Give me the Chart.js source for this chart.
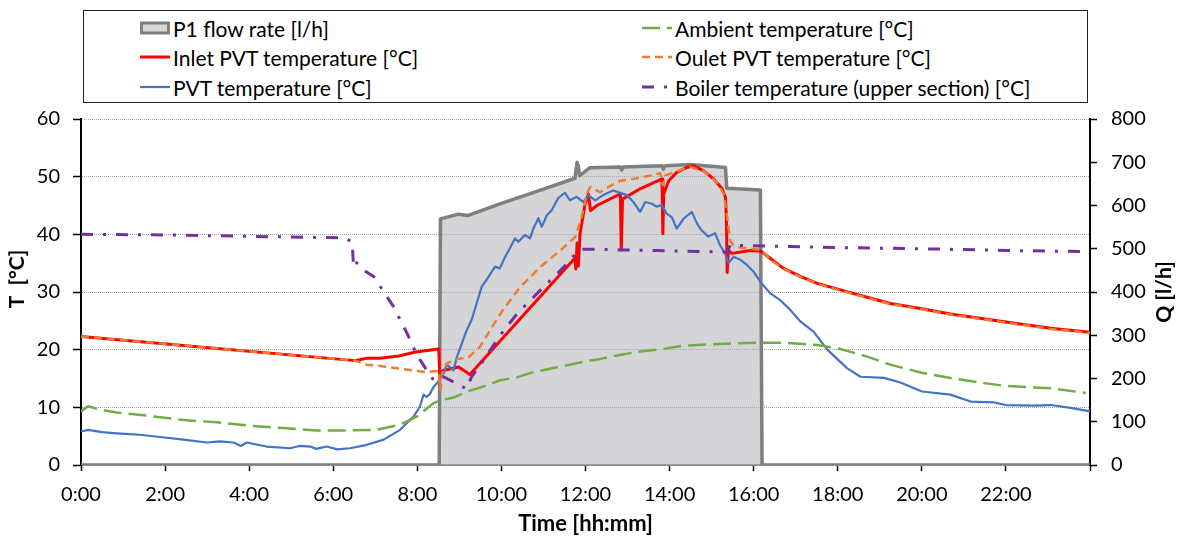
<!DOCTYPE html>
<html>
<head>
<meta charset="utf-8">
<script src="https://cdn.jsdelivr.net/npm/chart.js@4.4.1/dist/chart.umd.min.js"></script>
<style>
    body { margin: 0; background: #fff; }
    #wrap { position: relative; width: 1182px; height: 537px; }
    #legend {
        position: absolute; left: 83px; top: 10px; width: 1003px; height: 91px;
        border: 1.5px solid #222; background: #fff;
        font-family: Lato, sans-serif; font-size: 21px; color: #000;
    }
    .lg-item { position: absolute; display: flex; align-items: center; height: 26px; white-space: nowrap; }
    .lg-item svg { margin-right: 3px; }
</style>
</head>
<body>
<div id="wrap">
    <canvas id="chart" width="1182" height="537"></canvas>
    <div id="legend"></div>
</div>
<script>
// --- Data (time in hours) ---
const xTicks = [0, 2, 4, 6, 8, 10, 12, 14, 16, 18, 20, 22, 24];
const leftTitle = 'T  [°C]';
const rightTitle = 'Q [l/h]';
const xTitle = 'Time [hh:mm]';

const flowTime = [0, 8.52, 8.55, 8.98, 9.21, 10.0, 11.0, 11.75, 11.8, 11.83, 11.86, 12.1, 12.83, 12.86, 12.9, 13.82, 13.85, 13.9, 14.5, 15.33, 15.36, 16.16, 16.2, 24];
const flowQ = [0, 0, 569, 580, 577, 605, 638, 663, 700, 690, 669, 687, 689, 682, 689, 692, 684, 692, 695, 688, 640, 636, 0, 0];

const inletTime = [0, 6.52, 6.8, 7.1, 7.56, 7.96, 8.51, 8.53, 8.62, 8.98, 9.25, 11.75, 11.77, 11.8, 11.83, 11.87, 11.99, 12.07, 12.12, 12.27, 12.83, 12.85, 12.88, 13.3, 13.82, 13.84, 13.86, 13.98, 14.17, 14.41, 14.57, 14.81, 15.05, 15.25, 15.33, 15.35, 15.37, 15.4, 15.48, 15.92, 16.16, 16.4, 16.71, 17.11, 17.51, 18, 18.7, 19.25, 20, 20.68, 22, 23.06, 24];
const inletT = [22.3, 18.1, 18.5, 18.5, 18.9, 19.6, 20.1, 16.0, 16.4, 17.0, 15.7, 35.9, 34.0, 38.5, 34.5, 40.1, 45.3, 47.0, 44.1, 45.0, 47.0, 37.3, 46.1, 47.9, 49.6, 40.1, 47.0, 49.3, 50.75, 51.6, 51.9, 51.0, 49.6, 47.9, 46.4, 43.0, 33.4, 37.2, 36.7, 37.2, 37.1, 35.8, 34.1, 32.7, 31.5, 30.5, 29.1, 28.0, 27.1, 26.2, 24.8, 23.7, 23.0];

const pvtTime = [0, 0.17, 0.5, 0.85, 1.4, 1.88, 2.44, 2.99, 3.3, 3.63, 3.8, 3.94, 4.41, 4.97, 5.2, 5.45, 5.6, 5.84, 6.1, 6.4, 6.8, 7.2, 7.59, 7.91, 8.06, 8.15, 8.22, 8.3, 8.38, 8.47, 8.62, 8.7, 8.86, 8.94, 9.17,
    9.29, 9.41, 9.53, 9.69, 9.85, 9.96, 10.09, 10.2, 10.32, 10.4, 10.56, 10.68, 10.76, 10.88, 10.96, 11.08, 11.2, 11.35, 11.51, 11.63, 11.79, 11.95, 12.07, 12.23, 12.42, 12.66, 12.86, 12.98,
    13.14, 13.3, 13.42, 13.58, 13.69, 13.81, 13.93, 14.05, 14.17, 14.33, 14.53, 14.65, 14.76, 14.92, 15.08, 15.2, 15.32, 15.4, 15.52, 15.68, 15.84, 16.0, 16.19, 16.39, 16.63,
    16.87, 17.11, 17.43, 17.75, 18.22, 18.54, 19.1, 19.49, 20, 20.68, 21.16, 21.71, 22, 22.67, 23.06, 23.54, 24];
const pvtT = [5.8, 6.1, 5.7, 5.5, 5.25, 4.85, 4.4, 3.9, 4.1, 3.9, 3.3, 3.9, 3.2, 2.9, 3.3, 3.2, 2.8, 3.2, 2.7, 2.9, 3.5, 4.4, 6.1, 8.4, 10.1, 12.2, 11.8, 12.3, 13.5, 14.2, 15.8, 17.4, 16.4, 18.7, 23.3,
    25.15, 28.0, 30.9, 32.6, 34.4, 34.1, 36.1, 37.55, 39.3, 38.7, 39.9, 39.3, 41.0, 42.8, 41.3, 43.3, 44.2, 46.3, 47.2, 45.9, 46.5, 45.6, 46.8, 45.9, 46.8, 47.6, 47.1, 46.8,
    45.6, 43.9, 45.6, 45.3, 44.8, 45.1, 43.6, 43.0, 41.0, 42.7, 43.9, 41.9, 40.7, 39.6, 40.2, 38.1, 36.7, 35.0, 36.1, 35.6, 34.7, 33.5, 31.5, 29.8, 28.6,
    26.9, 24.9, 23.1, 20.0, 16.8, 15.3, 15.1, 14.3, 12.75, 12.2, 11.0, 10.85, 10.4, 10.3, 10.4, 9.9, 9.3];

const ambTime = [0, 0.17, 0.45, 0.85, 1.64, 2.44, 3.23, 4.02, 4.82, 5.61, 6.4, 7.03, 7.59, 7.99, 8.38, 8.54, 8.86, 9.17, 9.65, 9.97, 10.37, 10.76, 11.16, 11.56, 11.95, 12.35, 12.75, 13.3, 13.78, 14.33, 14.89, 15.52, 16.08, 16.71, 17.51, 18, 18.7, 19.25, 20, 20.68, 21.48, 22, 23.06, 23.9];
const ambT = [9.3, 10.2, 9.6, 9.1, 8.5, 7.8, 7.4, 6.8, 6.4, 6.0, 6.0, 6.1, 7.0, 8.4, 10.7, 11.2, 11.7, 12.7, 13.8, 14.7, 15.2, 16.1, 16.7, 17.3, 17.9, 18.4, 19.0, 19.7, 20.05, 20.7, 20.9, 21.1, 21.2, 21.2, 20.8, 20.25, 18.8, 17.4, 16.0, 15.1, 14.2, 13.7, 13.3, 12.5];

const outletTime = [0, 6.52, 6.8, 7.2, 7.6, 8.22, 8.5, 8.55, 8.6, 8.7, 8.94, 9.21, 9.49, 9.97, 10.44, 10.92, 11.4, 11.75, 11.91, 12.03, 12.11, 12.35, 12.59, 12.83, 13.14, 13.54, 13.78, 13.84, 13.9, 14.1, 14.49, 14.81, 15.13, 15.29, 15.37, 15.44, 15.52, 15.68, 15.92, 16.16, 16.4, 16.71, 17.11, 17.51, 18, 18.7, 19.25, 20, 20.68, 22, 23.06, 24];
const outletT = [22.3, 18.1, 17.4, 17.1, 16.7, 16.1, 16.3, 13.0, 16.0, 17.6, 18.4, 18.6, 20.5, 26.2, 30.8, 34.3, 37.2, 39.5, 43.0, 47.0, 48.2, 47.3, 48.4, 49.3, 49.6, 50.2, 50.6, 48.5, 50.2, 50.75, 51.7, 51.0, 49.0, 47.0, 43.0, 38.9, 38.1, 37.7, 37.5, 37.3, 35.6, 34.0, 32.6, 31.4, 30.4, 29.0, 27.9, 27.0, 26.1, 24.7, 23.6, 22.9];

const boilerTime = [0, 2.04, 4.41, 6.24, 6.45, 6.48, 6.5, 6.72, 6.96, 7.43, 7.75, 7.99, 8.27, 8.39, 8.62, 8.94, 9.17, 9.29, 9.57, 9.97, 10.37, 10.76, 11.16, 11.56, 11.79, 11.95, 12.35, 12.83, 13.7, 15.37, 15.44, 16.87, 18, 20, 22, 24];
const boilerT = [40.0, 39.9, 39.6, 39.4, 38.7, 34.7, 35.5, 33.8, 32.7, 27.5, 22.9, 19.1, 15.9, 14.7, 15.3, 14.1, 13.2, 15.3, 18.1, 22.5, 26.2, 29.1, 32.0, 34.9, 36.9, 37.4, 37.4, 37.3, 37.2, 36.9, 38.1, 37.9, 37.7, 37.5, 37.2, 37.0];

const toXY = (xs, ys) => xs.map((x, i) => ({ x: x, y: ys[i] }));

// legend order follows the original (two columns, three rows)
const series = [
    { label: 'P1 flow rate [l/h]', data: toXY(flowTime, flowQ), axis: 'yQ', color: '#7F7F7F', width: 3.5, dash: [], fillColor: 'rgba(172,171,175,0.5)', order: 6, col: 0, row: 0, box: true },
    { label: 'Inlet PVT temperature [°C]', data: toXY(inletTime, inletT), axis: 'yT', color: '#FF0000', width: 3, dash: [], order: 5, col: 0, row: 1 },
    { label: 'PVT temperature [°C]', data: toXY(pvtTime, pvtT), axis: 'yT', color: '#4472C4', width: 2.2, dash: [], order: 4, col: 0, row: 2 },
    { label: 'Ambient temperature [°C]', data: toXY(ambTime, ambT), axis: 'yT', color: '#70AD47', width: 2.5, dash: [18, 7], order: 3, col: 1, row: 0 },
    { label: 'Oulet PVT temperature [°C]', data: toXY(outletTime, outletT), axis: 'yT', color: '#ED7D31', width: 2.5, dash: [8, 5], order: 2, col: 1, row: 1 },
    { label: 'Boiler temperature (upper section) [°C]', data: toXY(boilerTime, boilerT), axis: 'yT', color: '#7030A0', width: 3, dash: [12, 10, 3, 10], order: 1, col: 1, row: 2 }
];

const FONT = 'Lato';

const axisTitles = {
    id: 'axisTitles',
    afterDraw(chart) {
        const ctx = chart.ctx;
        ctx.save();
        ctx.font = 'bold 21px ' + FONT;
        ctx.fillStyle = '#000';
        ctx.textAlign = 'center';
        ctx.textBaseline = 'middle';
        [[leftTitle, 17, 279], [rightTitle, 1164, 292]].forEach(([txt, x, y]) => {
            ctx.save();
            ctx.translate(x, y);
            ctx.rotate(-Math.PI / 2);
            ctx.fillText(txt, 0, 0);
            ctx.restore();
        });
        ctx.restore();
    }
};

new Chart(document.getElementById('chart'), {
    type: 'line',
    data: {
        datasets: series.map(s => ({
            label: s.label,
            data: s.data,
            yAxisID: s.axis,
            borderColor: s.color,
            borderWidth: s.width,
            borderDash: s.dash,
            borderJoinStyle: 'round',
            backgroundColor: s.fillColor || s.color,
            fill: s.box ? 'origin' : false,
            pointRadius: 0,
            tension: 0,
            order: s.order
        }))
    },
    options: {
        responsive: false,
        animation: false,
        devicePixelRatio: 1,
        layout: { padding: { top: 119, left: 0, right: 0, bottom: 0 } },
        plugins: { legend: { display: false }, tooltip: { enabled: false } },
        scales: {
            x: {
                type: 'linear', min: 0, max: 24,
                afterFit: s => { s.height = 72; },
                afterBuildTicks: s => { s.ticks = xTicks.map(v => ({ value: v })); },
                ticks: {
                    color: '#000', font: { family: FONT, size: 20 }, padding: 12, maxRotation: 0,
                    callback: v => v === 24 ? '' : v + ':00'
                },
                grid: { drawOnChartArea: false, drawTicks: true, tickLength: 6, tickColor: '#000', tickWidth: 1.5 },
                border: { color: '#8C8C8C', width: 2 },
                title: { display: true, text: xTitle, color: '#000', font: { family: FONT, size: 22, weight: 'bold' }, padding: { top: 0, bottom: 0 } }
            },
            yT: {
                position: 'left', min: 0, max: 60,
                afterFit: s => { s.width = 81; },
                ticks: { stepSize: 10, color: '#000', font: { family: FONT, size: 20 }, padding: 13 },
                grid: { color: '#A6A6A6', lineWidth: 1, drawTicks: true, tickLength: 8, tickColor: '#000', tickWidth: 1.5, tickBorderDash: [] },
                border: { color: '#000', width: 2, dash: [1, 1] }
            },
            yQ: {
                position: 'right', min: 0, max: 800,
                afterFit: s => { s.width = 92; },
                ticks: { stepSize: 100, color: '#000', font: { family: FONT, size: 20 }, padding: 14 },
                grid: { drawOnChartArea: false, drawTicks: true, tickLength: 7, tickColor: '#000', tickWidth: 1.5 },
                border: { color: '#000', width: 2 }
            }
        }
    },
    plugins: [axisTitles]
});

// --- HTML legend ---
const legendEl = document.getElementById('legend');
const colX = [56, 558];
const rowY = [4, 33, 63];
legendEl.innerHTML = series.map(s => {
    const sym = s.box
        ? `<svg width="30" height="14"><rect x="1.5" y="2" width="27" height="10" fill="#D9D9D9" stroke="${s.color}" stroke-width="3"/></svg>`
        : `<svg width="30" height="14"><line x1="0" y1="7" x2="30" y2="7" stroke="${s.color}" stroke-width="${s.width}" stroke-dasharray="${s.dash.length ? s.dash.join(' ') : 'none'}"/></svg>`;
    return `<div class="lg-item" style="left:${colX[s.col]}px; top:${rowY[s.row]}px;">${sym}<span>${s.label}</span></div>`;
}).join('');
</script>
</body>
</html>
